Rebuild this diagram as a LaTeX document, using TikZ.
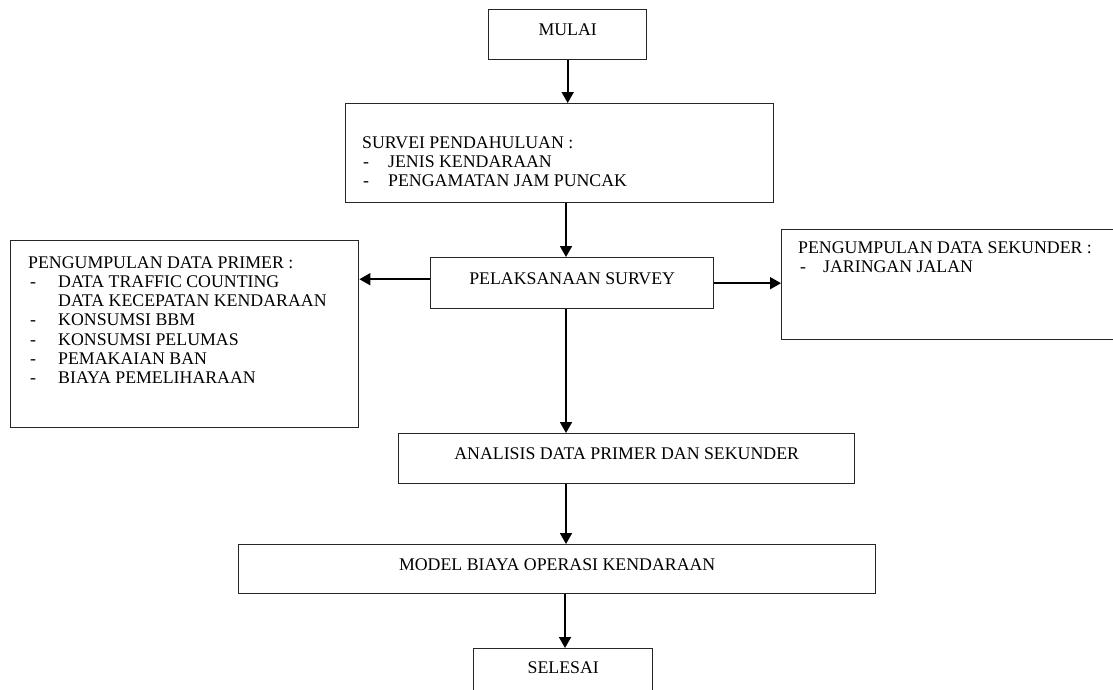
\documentclass[tikz,border=0pt]{standalone}
\usepackage{fontspec}
\setmainfont{Liberation Serif}
\usetikzlibrary{arrows.meta}
\begin{document}
\begin{tikzpicture}[x=1pt,y=-1pt,
  font=\fontsize{17.8}{19.3}\selectfont,
  box/.style={draw=black!85,line width=1.4pt,inner sep=0pt,anchor=north west},
  lbl/.style={text height=12pt,text depth=10pt},
  txt/.style={inner sep=0pt,anchor=base west,align=left},
  arr/.style={line width=1.8pt,-{Triangle[length=11pt,width=12pt]}}]
\useasboundingbox (0,0) rectangle (1113,689);
\clip (0,0) rectangle (1113,689);
\coordinate (ax) at (566,0);
% boxes
\node[box,lbl,minimum width=158pt,minimum height=50pt] (mulai) at (488,9) {MULAI};
\node[box,minimum width=428pt,minimum height=99pt] (survei) at (345,103) {};
\node[txt] (surveit) at (362,186.6) {SURVEI PENDAHULUAN :\\
  \hspace*{1pt}\makebox[25pt][l]{-}JENIS KENDARAAN\\
  \hspace*{1pt}\makebox[25pt][l]{-}PENGAMATAN JAM PUNCAK};
\node[box,lbl,minimum width=283pt,minimum height=51pt] (pel) at (430,257) {PELAKSANAAN SURVEY};
\node[box,minimum width=348pt,minimum height=187pt] (prim) at (10,240) {};
\node[txt] (primt) at (28,383.8) {PENGUMPULAN DATA PRIMER :\\
  \hspace*{2pt}\makebox[28pt][l]{-}DATA TRAFFIC COUNTING\\
  \hspace*{30pt}DATA KECEPATAN KENDARAAN\\
  \hspace*{2pt}\makebox[28pt][l]{-}KONSUMSI BBM\\
  \hspace*{2pt}\makebox[28pt][l]{-}KONSUMSI PELUMAS\\
  \hspace*{2pt}\makebox[28pt][l]{-}PEMAKAIAN BAN\\
  \hspace*{2pt}\makebox[28pt][l]{-}BIAYA PEMELIHARAAN};
\node[box,minimum width=345pt,minimum height=110pt] (sek) at (781,229) {};
\node[txt] (sekt) at (798,272.3) {PENGUMPULAN DATA SEKUNDER :\\
  \hspace*{2pt}\makebox[23pt][l]{-}JARINGAN JALAN};
\node[box,lbl,minimum width=456pt,minimum height=50pt] (anal) at (398,433) {ANALISIS DATA PRIMER DAN SEKUNDER};
\node[box,lbl,minimum width=637pt,minimum height=49pt] (model) at (238,544) {MODEL BIAYA OPERASI KENDARAAN};
\node[box,lbl,minimum width=179pt,minimum height=48pt] (selesai) at (473,648) {SELESAI};
% connectors
\draw[arr] (mulai.south) -- (mulai.south |- survei.north);
\draw[arr] (ax |- survei.south) -- (ax |- pel.north);
\draw[arr] ([yshift=4pt]pel.west) -- ([yshift=4pt]pel.west -| prim.east);
\draw[arr] (pel.east) -- (pel.east -| sek.west);
\draw[arr] (ax |- pel.south) -- (ax |- anal.north);
\draw[arr] (ax |- anal.south) -- (ax |- model.north);
\draw[arr] ([xshift=-1pt]ax |- model.south) -- ([xshift=-1pt]ax |- selesai.north);
\end{tikzpicture}
\end{document}
